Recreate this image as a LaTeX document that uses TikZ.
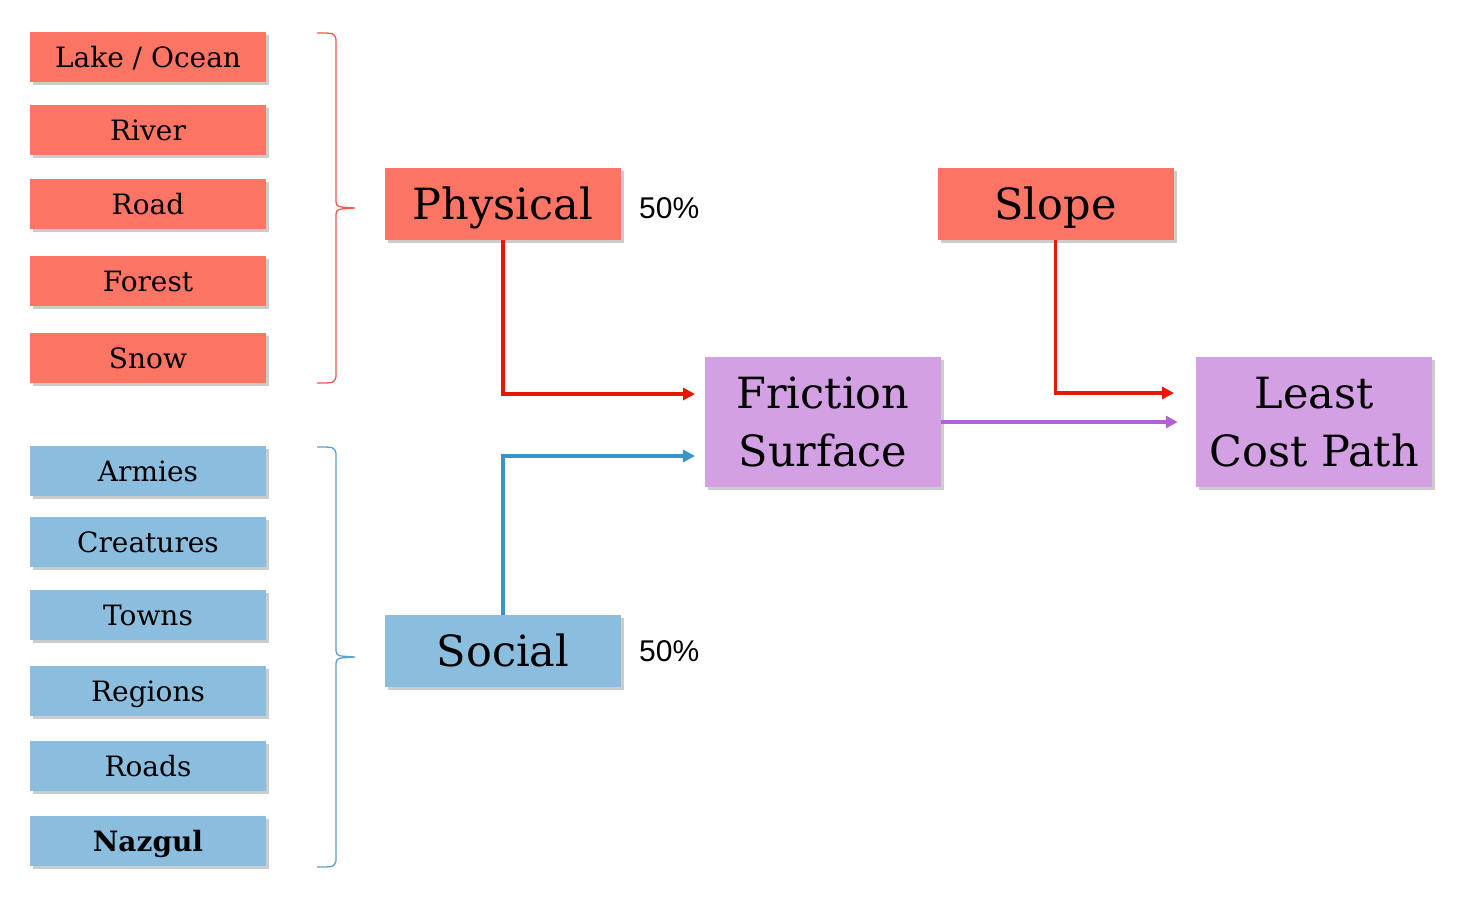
\documentclass[tikz,border=0pt]{standalone}
\usepackage{fontspec}
\setmainfont{DejaVu Serif}
\newfontfamily\pctfont{Liberation Sans}
\usepackage{tikz}
\usetikzlibrary{positioning, shadows, arrows.meta}

\definecolor{boxred}{HTML}{FC7464}
\definecolor{boxblue}{HTML}{8ABDDE}
\definecolor{boxpurple}{HTML}{D3A0E3}
\definecolor{linered}{HTML}{E81606}
\definecolor{lineblue}{HTML}{3A94C8}
\definecolor{linepurple}{HTML}{B260D2}
\definecolor{bracered}{HTML}{EE5A4A}
\definecolor{braceblue}{HTML}{5AA0CD}

\begin{document}
\begin{tikzpicture}[x=1pt, y=-1pt,
    layer/.style={minimum width=236pt, minimum height=50pt, inner sep=0pt,
        text height=20pt, text depth=0pt, font=\fontsize{28}{32}\selectfont,
        drop shadow={shadow xshift=3pt, shadow yshift=-3pt, fill=black, opacity=0.2}},
    group/.style={layer, minimum height=72pt, text height=31pt, font=\fontsize{43}{58}\selectfont},
    result/.style={layer, minimum height=130pt, text height=, text depth=,
        align=center, font=\fontsize{43}{58}\selectfont},
    pct/.style={anchor=west, inner sep=0pt, font=\pctfont\fontsize{30}{34}\selectfont},
    link/.style={line width=3.5pt, -{Triangle[length=12pt, width=12pt]}},
    bracket/.style={line width=1.3pt}]

        % Nodes
        \node[layer, fill=boxred] (lake) at (148, 57) {Lake / Ocean};
        \node[layer, fill=boxred] (river) at (148, 130) {River};
        \node[layer, fill=boxred] (road) at (148, 204) {Road};
        \node[layer, fill=boxred] (forest) at (148, 281) {Forest};
        \node[layer, fill=boxred] (snow) at (148, 358) {Snow};

        \node[layer, fill=boxblue] (armies) at (148, 471) {Armies};
        \node[layer, fill=boxblue] (creatures) at (148, 542) {Creatures};
        \node[layer, fill=boxblue] (towns) at (148, 615) {Towns};
        \node[layer, fill=boxblue] (regions) at (148, 691) {Regions};
        \node[layer, fill=boxblue] (roads) at (148, 766) {Roads};
        \node[layer, fill=boxblue] (nazgul) at (148, 841) {\bfseries Nazgul};

        \node[group, fill=boxred] (physical) at (503, 204) {Physical};
        \node[group, fill=boxblue] (social) at (503, 651) {Social};
        \node[group, fill=boxred] (slope) at (1055.5, 204) {Slope};

        \node[result, fill=boxpurple] (friction) at (823, 422) {Friction\\Surface};
        \node[result, fill=boxpurple] (leastcost) at (1314, 422) {Least\\Cost Path};

        % Arrow ends
        \coordinate (physin) at (695, 394);
        \coordinate (socialin) at (695, 456);
        \coordinate (slopein) at (1174, 393);

        % Braces
        \draw[bracket, bracered] (317, 33) .. controls (334, 33) .. (336, 39) -- (336, 202)
            .. controls (337, 207) .. (355, 208) .. controls (337, 209) .. (336, 214)
            -- (336, 377) .. controls (334, 383) .. (317, 383);
        \draw[bracket, braceblue] (317, 447) .. controls (334, 447) .. (336, 453) -- (336, 651)
            .. controls (337, 656) .. (355, 657) .. controls (337, 658) .. (336, 663)
            -- (336, 861) .. controls (334, 867) .. (317, 867);

        % Edges
        \draw[link, linered] (physical) |- (physin);
        \draw[link, lineblue] (social) |- (socialin);
        \draw[link, linered] (slope) |- (slopein);
        \draw[link, linepurple, shorten >=18pt] (friction) -- (leastcost);

        % Labels
        \node[pct] (physpct) at (639, 208) {50\%};
        \node[pct] (socialpct) at (639, 651) {50\%};

        \useasboundingbox (0, 0) rectangle (1470, 900);
    \end{tikzpicture}
\end{document}
